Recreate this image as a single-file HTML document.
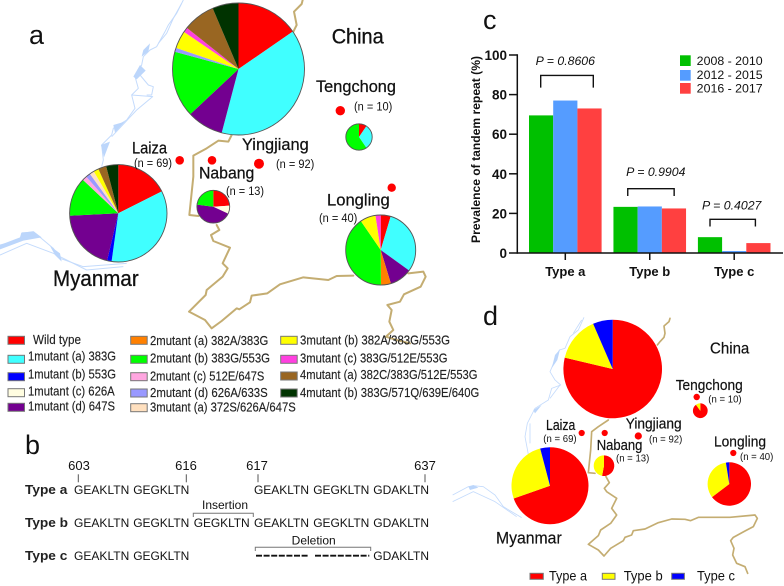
<!DOCTYPE html>
<html lang="en">
<head>
<meta charset="utf-8">
<title>Tandem repeat prevalence figure</title>
<style>
html,body{margin:0;padding:0;background:#fff;width:784px;height:586px;overflow:hidden}
svg{display:block}
text{font-family:"Liberation Sans",sans-serif;fill:#111}
.panel{font-size:27px}
.lg{font-size:17px;stroke:#111;stroke-width:.25}
.n{font-size:11.5px}
.leg{font-size:13px;fill:#222;stroke:#222;stroke-width:.15}
.seq{font-size:12px}
.typ{font-size:12.5px;font-weight:bold;fill:#222}
.md{font-size:14.5px;stroke:#111;stroke-width:.2}
.nd{font-size:10.5px}
.big{stroke:#111;stroke-width:.3}
.river{fill:none;stroke:#c4dbfc;stroke-width:3;stroke-linejoin:round}
.blob{fill:#bcd6fb;stroke:none}
.border{fill:none;stroke:#c4ad72;stroke-width:6;stroke-linejoin:round;stroke-linecap:round}
.sw{stroke:#777;stroke-width:1}
</style>
</head>
<body>
<svg id="figure" xmlns="http://www.w3.org/2000/svg" width="784" height="586" viewBox="0 0 784 586">
  <rect width="784" height="586" fill="#fff"/>

  <!-- Panel a map -->
  <g>
    <g transform="scale(.33333)">
      <polyline class="river" points="550,0 530,40 505,75 495,95 470,140 450,150 430,170 425,195 405,230 415,265 395,285 405,325 380,360 340,385 335,405 305,435 310,480 305,500"/>
      <polyline class="river" points="545,10 520,55 500,100 475,130"/>
      <polyline class="river" points="420,225 445,255 460,260 455,285 440,285"/>
      <polyline class="river" points="395,285 458,290 410,330 335,410"/>
      <polygon class="blob" points="430,150 450,130 445,155 425,170"/>
      <polygon class="blob" points="420,195 437,212 410,238 400,230"/>
      <polygon class="blob" points="340,375 375,365 345,398"/>
      <polygon class="blob" points="303,435 330,425 312,472"/>
      <polyline class="river" points="0,735 60,720 65,700 100,695 160,745 180,775 250,800 380,790"/>
      <polyline class="river" points="0,765 80,730 160,760 260,810 370,800"/>
      <polygon class="blob" points="0,735 60,712 65,697 102,695 125,712 70,722 0,748"/>
      <polygon class="blob" points="150,738 180,760 185,785 165,765"/>
    </g>
    <g transform="scale(.33333)">
      <polyline class="border" points="908,0 905,12 882,35 890,75 880,95"/>
      <polyline class="border" points="695,405 685,425 655,422 620,445 580,467 580,530 568,645 595,648"/>
    </g>
    <g transform="translate(180 215) scale(.33333)">
      <polyline class="border" points="110,30 118,45 93,60 100,78 150,98 128,145 143,160 128,185 80,225 77,240 27,290 75,315 95,340 125,318 170,280 178,283 210,262 215,242 262,235 300,208 370,187 445,195 470,183 520,182"/>
      <polyline class="border" points="685,175 730,170 737,185 722,215 672,238 660,260 622,270 635,285 628,320 640,345 618,365 650,375 690,385"/>
    </g>
    <circle cx="179.7" cy="160.3" r="4.3" fill="#f00"/>
    <circle cx="212" cy="160.3" r="4.3" fill="#f00"/>
    <circle cx="259" cy="163.7" r="5" fill="#f00"/>
    <circle cx="340.3" cy="110.7" r="4.7" fill="#f00"/>
    <circle cx="391.7" cy="187.7" r="4.2" fill="#f00"/>
  </g>
  <g id="pies-a"></g>

  <g>
    <text class="panel" x="29" y="44">a</text>
    <text class="big" x="331.7" y="43.5" font-size="21" textLength="52" lengthAdjust="spacingAndGlyphs">China</text>
    <text class="lg" x="316" y="92" textLength="80" lengthAdjust="spacingAndGlyphs">Tengchong</text>
    <text class="n" x="354" y="110.5" textLength="38.3" lengthAdjust="spacingAndGlyphs">(n = 10)</text>
    <text class="lg" x="242" y="150" textLength="66.7" lengthAdjust="spacingAndGlyphs">Yingjiang</text>
    <text class="n" x="276" y="168" textLength="38.3" lengthAdjust="spacingAndGlyphs">(n = 92)</text>
    <text class="lg" x="132" y="153.5" textLength="35" lengthAdjust="spacingAndGlyphs">Laiza</text>
    <text class="n" x="134" y="167" textLength="38" lengthAdjust="spacingAndGlyphs">(n = 69)</text>
    <text class="lg" x="199" y="178.5" textLength="55.3" lengthAdjust="spacingAndGlyphs">Nabang</text>
    <text class="n" x="226" y="195" textLength="38" lengthAdjust="spacingAndGlyphs">(n = 13)</text>
    <text class="lg" x="327" y="205.5" textLength="62.7" lengthAdjust="spacingAndGlyphs">Longling</text>
    <text class="n" x="319" y="222" textLength="38.3" lengthAdjust="spacingAndGlyphs">(n = 40)</text>
    <text class="big" x="53" y="286" font-size="22" textLength="85.7" lengthAdjust="spacingAndGlyphs">Myanmar</text>
  </g>

  <!-- Mutant legend -->
  <g>
    <g><rect class="sw" x="8" y="336.3" width="16.5" height="8" fill="#ff0000"/><text class="leg" x="33" y="344" textLength="48" lengthAdjust="spacingAndGlyphs">Wild type</text></g>
    <g><rect class="sw" x="8" y="355.3" width="16.5" height="8" fill="#40ffff"/><text class="leg" x="28" y="360.5" textLength="88" lengthAdjust="spacingAndGlyphs">1mutant (a) 383G</text></g>
    <g><rect class="sw" x="8" y="372.7" width="16.5" height="8" fill="#0000ff"/><text class="leg" x="28" y="378.3" textLength="88" lengthAdjust="spacingAndGlyphs">1mutant (b) 553G</text></g>
    <g><rect class="sw" x="8" y="388.7" width="16.5" height="8" fill="#fffde0"/><text class="leg" x="28" y="395.3" textLength="86.7" lengthAdjust="spacingAndGlyphs">1mutant (c) 626A</text></g>
    <g><rect class="sw" x="8" y="403.3" width="16.5" height="8" fill="#730090"/><text class="leg" x="28" y="410.7" textLength="87" lengthAdjust="spacingAndGlyphs">1mutant (d) 647S</text></g>

    <g><rect class="sw" x="130.7" y="336.3" width="16.5" height="8" fill="#ff8000"/><text class="leg" x="150" y="345" textLength="118.3" lengthAdjust="spacingAndGlyphs">2mutant (a) 382A/383G</text></g>
    <g><rect class="sw" x="130.7" y="355.3" width="16.5" height="8" fill="#00ff00"/><text class="leg" x="150" y="362.7" textLength="120" lengthAdjust="spacingAndGlyphs">2mutant (b) 383G/553G</text></g>
    <g><rect class="sw" x="130.7" y="372.7" width="16.5" height="8" fill="#ffa6e0"/><text class="leg" x="150" y="380.7" textLength="114.3" lengthAdjust="spacingAndGlyphs">2mutant (c) 512E/647S</text></g>
    <g><rect class="sw" x="130.7" y="389" width="16.5" height="8" fill="#9999ff"/><text class="leg" x="150" y="397" textLength="117.7" lengthAdjust="spacingAndGlyphs">2mutant (d) 626A/633S</text></g>
    <g><rect class="sw" x="130.7" y="403.7" width="16.5" height="8" fill="#ffe0bf"/><text class="leg" x="150" y="411.7" textLength="145.7" lengthAdjust="spacingAndGlyphs">3mutant (a) 372S/626A/647S</text></g>

    <g><rect class="sw" x="280.7" y="336.3" width="16.5" height="8" fill="#ffff00"/><text class="leg" x="300" y="344.3" textLength="150" lengthAdjust="spacingAndGlyphs">3mutant (b) 382A/383G/553G</text></g>
    <g><rect class="sw" x="280.7" y="355.3" width="16.5" height="8" fill="#ff40e0"/><text class="leg" x="300" y="362.7" textLength="147.5" lengthAdjust="spacingAndGlyphs">3mutant (c) 383G/512E/553G</text></g>
    <g><rect class="sw" x="280.7" y="372" width="16.5" height="8" fill="#996622"/><text class="leg" x="300" y="379" textLength="177.5" lengthAdjust="spacingAndGlyphs">4mutant (a) 382C/383G/512E/553G</text></g>
    <g><rect class="sw" x="280.7" y="389" width="16.5" height="8" fill="#003300"/><text class="leg" x="300" y="397" textLength="179.3" lengthAdjust="spacingAndGlyphs">4mutant (b) 383G/571Q/639E/640G</text></g>
  </g>

  <!-- Panel b -->
  <g>
    <text class="panel" x="25" y="454">b</text>
    <g font-size="13" text-anchor="middle">
      <text x="79" y="470" font-size="13">603</text>
      <text x="186" y="470" font-size="13">616</text>
      <text x="257" y="470" font-size="13">617</text>
      <text x="425" y="470" font-size="13">637</text>
    </g>
    <g stroke="#555" stroke-width="1">
      <line x1="78.3" y1="474.3" x2="78.3" y2="482.3"/>
      <line x1="186.3" y1="474.3" x2="186.3" y2="482.3"/>
      <line x1="258" y1="474.3" x2="258" y2="482.3"/>
      <line x1="425" y1="474.3" x2="425" y2="482.3"/>
    </g>
    <g>
      <text class="typ" x="25" y="494" textLength="42.3" lengthAdjust="spacingAndGlyphs">Type a</text>
      <text class="seq" x="74" y="494" textLength="55.3">GEAKLTN</text>
      <text class="seq" x="133.3" y="494" textLength="56">GEGKLTN</text>
      <text class="seq" x="254" y="494" textLength="55">GEAKLTN</text>
      <text class="seq" x="313.3" y="494" textLength="56">GEGKLTN</text>
      <text class="seq" x="373.3" y="494" textLength="55.7">GDAKLTN</text>
    </g>
    <g>
      <text class="typ" x="25" y="527" textLength="43" lengthAdjust="spacingAndGlyphs">Type b</text>
      <text class="seq" x="74" y="527" textLength="55.3">GEAKLTN</text>
      <text class="seq" x="133.3" y="527" textLength="56">GEGKLTN</text>
      <text class="seq" x="193.7" y="527" textLength="56">GEGKLTN</text>
      <text class="seq" x="254" y="527" textLength="55">GEAKLTN</text>
      <text class="seq" x="313.3" y="527" textLength="56">GEGKLTN</text>
      <text class="seq" x="373.3" y="527" textLength="55.7">GDAKLTN</text>
    </g>
    <g>
      <text class="typ" x="25" y="560" textLength="42.3" lengthAdjust="spacingAndGlyphs">Type c</text>
      <text class="seq" x="74" y="560" textLength="55.3">GEAKLTN</text>
      <text class="seq" x="133.3" y="560" textLength="56">GEGKLTN</text>
      <text class="seq" x="373.3" y="560" textLength="55.7">GDAKLTN</text>
    </g>
    <text x="225" y="509" font-size="12" text-anchor="middle">Insertion</text>
    <polyline points="193.3,517 193.3,513.3 253.3,513.3 253.3,517" fill="none" stroke="#777" stroke-width="1"/>
    <text x="313.7" y="544.3" font-size="12" text-anchor="middle">Deletion</text>
    <polyline points="255.3,551 255.3,547.3 370.7,547.3 370.7,551" fill="none" stroke="#777" stroke-width="1"/>
    <g stroke="#111" stroke-width="1.8" stroke-dasharray="6 1.6">
      <line x1="256" y1="555.7" x2="309" y2="555.7"/>
      <line x1="315" y1="555.7" x2="369.3" y2="555.7"/>
    </g>
  </g>

  <!-- Panel c -->
  <text class="panel" x="483" y="29">c</text>
  <g id="bar-chart"></g>
  <text transform="translate(480 243) rotate(-90)" x="0" y="0" font-size="11.5" font-weight="bold" textLength="187" lengthAdjust="spacingAndGlyphs" fill="#222">Prevalence of tandem repeat (%)</text>
  <g>
    <g><rect x="680" y="55.3" width="10.7" height="10.7" fill="#00c000"/><text x="696.7" y="65" font-size="12.3" textLength="66" lengthAdjust="spacingAndGlyphs">2008 - 2010</text></g>
    <g><rect x="680" y="70" width="10.7" height="10.7" fill="#559cff"/><text x="696.7" y="79" font-size="12.3" textLength="66" lengthAdjust="spacingAndGlyphs">2012 - 2015</text></g>
    <g><rect x="680" y="83" width="10.7" height="10.7" fill="#ff4040"/><text x="696.7" y="92.5" font-size="12.3" textLength="66" lengthAdjust="spacingAndGlyphs">2016 - 2017</text></g>
  </g>

  <!-- Panel d map -->
  <g>
    <g transform="translate(440 310) scale(.33333)">
      <polyline class="river" style="stroke-width:2.5" points="432,22 415,60 390,80 375,115 358,120 345,150 330,185 345,210 362,225 335,235 325,270 285,295 262,340 255,380 270,460"/>
      <polyline class="river" style="stroke-width:2.5" points="425,30 400,70"/>
      <polyline class="river" style="stroke-width:2.5" points="360,225 330,265"/>
      <polyline class="river" style="stroke-width:2.5" points="270,340 270,400"/>
      <polygon class="blob" points="345,135 360,118 352,150 335,175"/>
      <polygon class="blob" points="280,300 305,285 285,310"/>
    </g>
    <g transform="translate(440 295) scale(.33333)">
      <polyline class="river" style="stroke-width:2.5" points="38,600 85,575 100,572 130,575 165,600 190,635 235,662 245,668"/>
      <polyline class="river" style="stroke-width:2.5" points="38,620 100,590 165,620 230,665"/>
      <polygon class="blob" points="85,575 100,570 115,578 90,585"/>
    </g>
    <g transform="translate(570 300) scale(.33333)">
      <polyline class="border" style="stroke-width:5" points="300,55 297,65 282,78 285,100 282,112 270,125 262,135"/>
      <polyline class="border" style="stroke-width:5" points="115,360 85,380 65,395 62,450 55,518 75,520"/>
      <polyline class="border" style="stroke-width:5" points="108,530 118,548 103,565 110,575 140,595 125,625 140,645 122,670 92,690 85,707 55,733 85,750 102,768 122,745 160,722 165,712 185,705 190,692 225,687 265,668 305,657 345,658 362,662 385,652 480,652 555,645 562,655 550,680 525,693 490,712 482,722 492,745 488,765 500,790 525,800 533,820"/>
    </g>
    <circle cx="581.7" cy="433" r="3.1" fill="#f00"/>
    <circle cx="604.7" cy="433" r="3.1" fill="#f00"/>
    <circle cx="638.3" cy="436" r="3.6" fill="#f00"/>
    <circle cx="696.7" cy="397" r="3.2" fill="#f00"/>
    <circle cx="733.3" cy="453" r="3.1" fill="#f00"/>
  </g>
  <g id="pies-d"></g>

  <g>
    <text class="panel" x="483" y="325">d</text>
    <text class="md" x="710" y="353.3" font-size="16" style="font-size:16px" textLength="39.3" lengthAdjust="spacingAndGlyphs">China</text>
    <text class="md" x="675.7" y="390" textLength="67" lengthAdjust="spacingAndGlyphs">Tengchong</text>
    <text class="nd" x="708.3" y="402.7" textLength="33.3" lengthAdjust="spacingAndGlyphs">(n = 10)</text>
    <text class="md" x="625.7" y="428.3" textLength="56" lengthAdjust="spacingAndGlyphs">Yingjiang</text>
    <text class="nd" x="649" y="442.3" textLength="33.3" lengthAdjust="spacingAndGlyphs">(n = 92)</text>
    <text class="md" x="546" y="430" textLength="29.3" lengthAdjust="spacingAndGlyphs">Laiza</text>
    <text class="nd" x="543.3" y="442" textLength="33.3" lengthAdjust="spacingAndGlyphs">(n = 69)</text>
    <text class="md" x="596.7" y="450" textLength="45.7" lengthAdjust="spacingAndGlyphs">Nabang</text>
    <text class="nd" x="616" y="461.7" textLength="33.3" lengthAdjust="spacingAndGlyphs">(n = 13)</text>
    <text class="md" x="714" y="446.7" textLength="52" lengthAdjust="spacingAndGlyphs">Longling</text>
    <text class="nd" x="740" y="460" textLength="33.3" lengthAdjust="spacingAndGlyphs">(n = 40)</text>
    <text class="md" x="496" y="543.3" style="font-size:17px" textLength="65.7" lengthAdjust="spacingAndGlyphs">Myanmar</text>
  </g>

  <g>
    <g><rect class="sw" x="530" y="573.3" width="13.3" height="6" fill="#ff0000"/><text x="549" y="580.7" font-size="14" textLength="38" lengthAdjust="spacingAndGlyphs">Type a</text></g>
    <g><rect class="sw" x="602.3" y="573.3" width="12.7" height="6" fill="#ffff00"/><text x="623.7" y="580.7" font-size="14" textLength="39" lengthAdjust="spacingAndGlyphs">Type b</text></g>
    <g><rect class="sw" x="671.7" y="573.3" width="12.7" height="6" fill="#0000ff"/><text x="697" y="580.7" font-size="14" textLength="38" lengthAdjust="spacingAndGlyphs">Type c</text></g>
  </g>
</svg>

<script>
// Pie data: mutant shares (%) in legend order
const mutantCategories = ['wild-type','1mutant-a','1mutant-b','1mutant-c','1mutant-d','2mutant-a','2mutant-b','2mutant-c','2mutant-d','3mutant-a','3mutant-b','3mutant-c','4mutant-a','4mutant-b'];
const yingjiangMutants = [15.4, 38.7, 0, 0, 8.9, 0, 16.2, 0, 1, 0, 4.3, 1.2, 7.9, 6.4];
const myanmarMutants   = [17.5, 34.5, 1.5, 0, 20.4, 0, 12.8, 1.5, 1.5, 1.5, 1.7, 0, 2.7, 4];
const nabangMutants    = [24, 0, 0, 8, 45, 0, 23, 0, 0, 0, 0, 0, 0, 0];
const tengchongMutants = [9.5, 31, 0, 0, 0, 0, 59.5, 0, 0, 0, 0, 0, 0, 0];
const longlingMutants  = [4.6, 30.4, 0, 0, 10.4, 4.6, 40.6, 0, 0, 0, 7.2, 2.4, 0, 0];

// Pie data: tandem repeat type shares (%)
const repeatTypes = ['type-a','type-b','type-c'];
const yingjiangTypes = [78.7, 14.8, 6.5];
const myanmarTypes   = [69.6, 26.3, 4.1];
const nabangTypes    = [53, 47, 0];
const tengchongTypes = [90, 10, 0];
const longlingTypes  = [64.7, 32.8, 2.5];

// Bar chart data
const barCategories = ['Type a','Type b','Type c'];
const barSeriesNames = ['2008-2010','2012-2015','2016-2017'];
const series2008 = [69.5, 23.3, 8];
const series2012 = [77, 23.5, 1];
const series2016 = [73, 22.5, 5];
const yTickValues = [0, 20, 40, 60, 80, 100];
const pLabels = ['P = 0.8606','P = 0.9904','P = 0.4027'];
const bracketTops = [89.7, 32.5, 17];
const bracketFeet = [83.5, 28.8, 13.4];
const pLabelLevels = [94.9, 39, 22];

const SVGNS = 'http://www.w3.org/2000/svg';
const mutantColors = ['#ff0000','#40ffff','#0000ff','#fffde0','#730090','#ff8000','#00ff00','#ffa6e0','#9999ff','#ffe0bf','#ffff00','#ff40e0','#996622','#003300'];
const typeColors = ['#ff0000','#ffff00','#0000ff'];
const seriesColors = ['#00c000','#559cff','#ff4040'];

function mk(tag, attrs, parent) {
  const el = document.createElementNS(SVGNS, tag);
  for (const k in attrs) el.setAttribute(k, attrs[k]);
  parent.appendChild(el);
  return el;
}

function drawPie(parent, site, values, names, colors, cx, cy, r, outline) {
  const total = values.reduce((a, b) => a + b, 0);
  let acc = 0;
  values.forEach((v, i) => {
    if (v <= 0) return;
    const a0 = acc / total * 2 * Math.PI - Math.PI / 2;
    acc += v;
    const a1 = acc / total * 2 * Math.PI - Math.PI / 2;
    const large = (a1 - a0) > Math.PI ? 1 : 0;
    const d = 'M' + cx + ' ' + cy +
      'L' + (cx + r * Math.cos(a0)) + ' ' + (cy + r * Math.sin(a0)) +
      'A' + r + ' ' + r + ' 0 ' + large + ' 1 ' + (cx + r * Math.cos(a1)) + ' ' + (cy + r * Math.sin(a1)) + 'Z';
    const slice = mk('path', { d: d, fill: colors[i] }, parent);
    
    
  });
  if (outline) {
    const ring = mk('circle', { cx: cx, cy: cy, r: r, fill: 'none', stroke: '#555', 'stroke-width': 0.9 }, parent);
    
    
  }
}

const piesA = document.getElementById('pies-a');
drawPie(piesA, 'yingjiang', yingjiangMutants, mutantCategories, mutantColors, 238.5, 69, 66, true);
drawPie(piesA, 'myanmar', myanmarMutants, mutantCategories, mutantColors, 118.3, 213.3, 48.7, true);
drawPie(piesA, 'nabang', nabangMutants, mutantCategories, mutantColors, 213.3, 206.7, 16.4, true);
drawPie(piesA, 'tengchong', tengchongMutants, mutantCategories, mutantColors, 359, 137, 13.2, true);
drawPie(piesA, 'longling', longlingMutants, mutantCategories, mutantColors, 380.7, 250, 35, true);

const piesD = document.getElementById('pies-d');
drawPie(piesD, 'yingjiang-d', yingjiangTypes, repeatTypes, typeColors, 612.7, 369, 49.3, false);
drawPie(piesD, 'myanmar-d', myanmarTypes, repeatTypes, typeColors, 550, 485.7, 38.5, false);
drawPie(piesD, 'nabang-d', nabangTypes, repeatTypes, typeColors, 604, 465.7, 10.3, false);
drawPie(piesD, 'tengchong-d', tengchongTypes, repeatTypes, typeColors, 700.3, 410.7, 7.4, false);
drawPie(piesD, 'longling-d', longlingTypes, repeatTypes, typeColors, 729.3, 484, 21.7, false);

// Bar chart axes
const chart = document.getElementById('bar-chart');
const yScale = v => 253 - v * 1.98;
const xGroup = i => 565.3 + i * 84.45;
const barW = 24.2;
const allSeries = [series2008, series2012, series2016];

allSeries.forEach((vals, s) => {
  vals.forEach((v, i) => {
    const bar = mk('rect', {
      x: xGroup(i) + (s - 1.5) * barW,
      y: yScale(v),
      width: barW,
      height: yScale(0) - yScale(v),
      fill: seriesColors[s]
    }, chart);
    
    
  });
});

const yAxis = mk('line', { x1: 517.3, y1: yScale(100) - 0.8, x2: 517.3, y2: yScale(0) + 0.8, stroke: '#111', 'stroke-width': 1.5 }, chart);


const xAxis = mk('line', { x1: 517.3, y1: yScale(0), x2: 783, y2: yScale(0), stroke: '#111', 'stroke-width': 1.5 }, chart);



yTickValues.forEach(v => {
  const tick = mk('line', { x1: 509, y1: yScale(v), x2: 517.3, y2: yScale(v), stroke: '#111', 'stroke-width': 1.5 }, chart);
  
  
  const label = mk('text', { x: 507, y: yScale(v) + 5, 'text-anchor': 'end', 'font-size': 13.5, 'font-weight': 'bold' }, chart);
  
  
  label.textContent = v;
});

barCategories.forEach((c, i) => {
  const tick = mk('line', { x1: xGroup(i), y1: yScale(0), x2: xGroup(i), y2: 260, stroke: '#111', 'stroke-width': 1.5 }, chart);
  
  
  const label = mk('text', { x: xGroup(i), y: 276, 'text-anchor': 'middle', 'font-size': 13, 'font-weight': 'bold' }, chart);
  
  
  label.textContent = c;

  const half = [26.3, 23.2, 22.7][i];
  const shift = [1.7, 1.2, -1.5][i];
  const lx = xGroup(i) + shift;
  const bracket = mk('polyline', {
    points: (lx - half) + ',' + yScale(bracketFeet[i]) + ' ' + (lx - half) + ',' + yScale(bracketTops[i]) + ' ' +
            (lx + half) + ',' + yScale(bracketTops[i]) + ' ' + (lx + half) + ',' + yScale(bracketFeet[i]),
    fill: 'none', stroke: '#111', 'stroke-width': 1.4
  }, chart);
  
  
  const pShift = [0, 6, -2.5][i];
  const p = mk('text', { x: xGroup(i) + pShift, y: yScale(pLabelLevels[i]), 'text-anchor': 'middle', 'font-size': 12.3, 'font-style': 'italic' }, chart);
  
  
  p.textContent = pLabels[i];
});
</script>
</body>
</html>
